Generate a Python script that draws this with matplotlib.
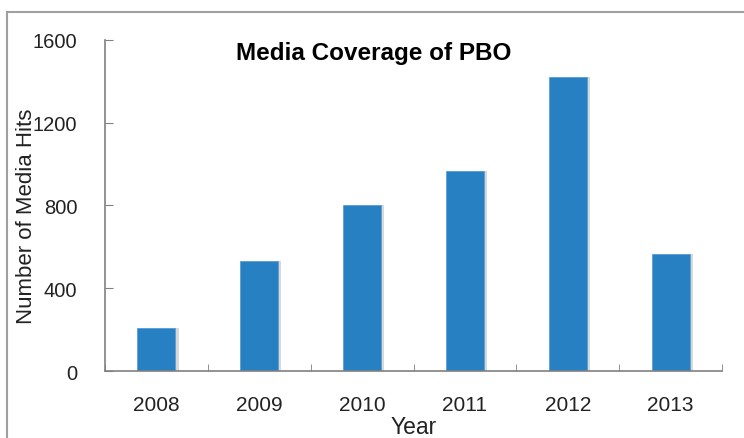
import numpy as np
import matplotlib
matplotlib.use('Agg')
import matplotlib.pyplot as plt
from matplotlib.patches import Rectangle

years = ['2008', '2009', '2010', '2011', '2012', '2013']
hits = [210, 530, 800, 965, 1420, 565]
yticks = [0, 400, 800, 1200, 1600]

plt.rcParams['font.family'] = ['Liberation Sans', 'DejaVu Sans']

f = plt.figure(figsize=(7.44, 4.39), dpi=100)
# outer chart frame
f.patches.append(Rectangle((7/744, -0.1), 1.0, (439-13)/439 + 0.1, transform=f.transFigure,
                           fill=False, edgecolor='#a0a0a0', linewidth=1.5))

ax = f.add_axes([105/744, 1-372/439, 617/744, (372-40.7)/439])
x = np.arange(len(years))
# soft shadow to the right of each bar
ax.bar(x + 0.03, hits, width=0.37, color='#d8d8d8', zorder=1)
ax.bar(x, hits, width=0.37, color='#2680c2', edgecolor='#5aa0d8', linewidth=0.6, zorder=2)

ax.set_xlim(-0.5, len(years) - 0.5)
ax.set_ylim(0, 1600)
ax.set_yticks(yticks)
ax.set_yticklabels([str(v) for v in yticks])
ax.set_xticks(x)
ax.set_xticklabels(years)
ax.set_xticks(np.arange(len(years) + 1) - 0.5, minor=True)
ax.tick_params(axis='x', which='major', length=0, labelsize=15, colors='#222222', pad=17)
ax.tick_params(axis='x', which='minor', direction='in', length=5, color='#808080')
ax.tick_params(axis='y', direction='in', length=6, color='#808080', labelsize=14.5,
               colors='#222222', pad=20)
for s in ['top', 'right']:
    ax.spines[s].set_visible(False)
for s in ['left', 'bottom']:
    ax.spines[s].set_color('#808080')
    ax.spines[s].set_linewidth(1.2)

ax.set_xlabel('Year', fontsize=16.5, color='#222222', labelpad=1)
ax.set_ylabel('Number of Media Hits', fontsize=16, color='#222222')
ax.yaxis.set_label_coords(-0.11, 0.47)
ax.text(0.435, 0.96, 'Media Coverage of PBO', transform=ax.transAxes, ha='center', va='center',
        fontsize=17.5, fontweight='bold')

f.savefig('out.png', dpi=100)
